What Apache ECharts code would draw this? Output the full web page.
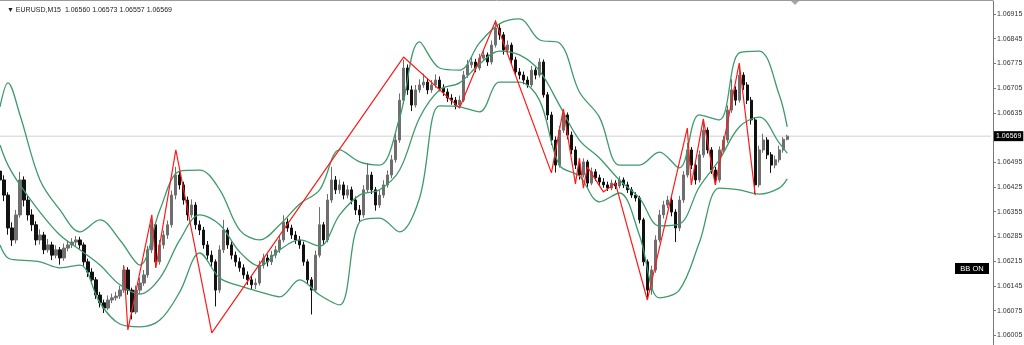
<!DOCTYPE html>
<html><head><meta charset="utf-8">
<script src="https://cdn.jsdelivr.net/npm/echarts@6/dist/echarts.min.js"></script>
<style>html,body{margin:0;padding:0;background:#fff}#c{width:1024px;height:345px}</style>
</head><body><div id="c"></div>
<script>
const symbolName = 'EURUSD,M15';
const slotCount = 249;
const opens = [
1.06470,1.06445,1.06402,1.06309,1.06275,1.06346,1.06445,1.06388,1.06346,1.06318,
1.06275,1.06289,1.06247,1.06261,1.06232,1.06247,1.06224,1.06252,1.06261,1.06269,
1.06275,1.06261,1.06213,1.06184,1.06162,1.06119,1.06097,1.06082,1.06105,1.06111,
1.06116,1.06133,1.06190,1.06133,1.06071,1.06133,1.06153,1.06176,1.06247,1.06318,
1.06213,1.06261,1.06289,1.06318,1.06402,1.06459,1.06431,1.06388,1.06346,1.06374,
1.06318,1.06303,1.06261,1.06232,1.06213,1.06133,1.06247,1.06303,1.06261,1.06232,
1.06213,1.06196,1.06176,1.06162,1.06148,1.06153,1.06204,1.06224,1.06213,1.06232,
1.06247,1.06275,1.06326,1.06309,1.06289,1.06275,1.06261,1.06213,1.06162,1.06133,
1.06232,1.06318,1.06275,1.06388,1.06445,1.06417,1.06431,1.06402,1.06417,1.06388,
1.06360,1.06346,1.06417,1.06459,1.06417,1.06374,1.06402,1.06431,1.06459,1.06502,
1.06558,1.06671,1.06762,1.06700,1.06657,1.06700,1.06714,1.06722,1.06700,1.06714,
1.06728,1.06705,1.06694,1.06677,1.06671,1.06657,1.06671,1.06742,1.06771,1.06779,
1.06762,1.06790,1.06799,1.06779,1.06827,1.06875,1.06856,1.06813,1.06827,1.06785,
1.06751,1.06742,1.06728,1.06714,1.06756,1.06742,1.06779,1.06686,1.06629,1.06558,
1.06487,1.06586,1.06629,1.06572,1.06530,1.06487,1.06459,1.06496,1.06436,1.06468,
1.06451,1.06439,1.06431,1.06422,1.06436,1.06428,1.06445,1.06431,1.06417,1.06402,
1.06394,1.06332,1.06213,1.06133,1.06190,1.06275,1.06346,1.06374,1.06388,1.06354,
1.06309,1.06388,1.06459,1.06530,1.06487,1.06445,1.06516,1.06586,1.06530,1.06473,
1.06445,1.06530,1.06558,1.06643,1.06700,1.06671,1.06742,1.06714,1.06671,1.06615,
1.06431,1.06530,1.06558,1.06516,1.06487,1.06502,1.06530,1.06560];
const closes = [
1.06445,1.06402,1.06309,1.06275,1.06346,1.06445,1.06388,1.06346,1.06318,1.06275,
1.06289,1.06247,1.06261,1.06232,1.06247,1.06224,1.06252,1.06261,1.06269,1.06275,
1.06261,1.06213,1.06184,1.06162,1.06119,1.06097,1.06082,1.06105,1.06111,1.06116,
1.06133,1.06190,1.06133,1.06071,1.06133,1.06153,1.06176,1.06247,1.06318,1.06213,
1.06261,1.06289,1.06318,1.06402,1.06459,1.06431,1.06388,1.06346,1.06374,1.06318,
1.06303,1.06261,1.06232,1.06213,1.06133,1.06247,1.06303,1.06261,1.06232,1.06213,
1.06196,1.06176,1.06162,1.06148,1.06153,1.06204,1.06224,1.06213,1.06232,1.06247,
1.06275,1.06326,1.06309,1.06289,1.06275,1.06261,1.06213,1.06162,1.06133,1.06232,
1.06318,1.06275,1.06388,1.06445,1.06417,1.06431,1.06402,1.06417,1.06388,1.06360,
1.06346,1.06417,1.06459,1.06417,1.06374,1.06402,1.06431,1.06459,1.06502,1.06558,
1.06671,1.06762,1.06700,1.06657,1.06700,1.06714,1.06722,1.06700,1.06714,1.06728,
1.06705,1.06694,1.06677,1.06671,1.06657,1.06671,1.06742,1.06771,1.06779,1.06762,
1.06790,1.06799,1.06779,1.06827,1.06875,1.06856,1.06813,1.06827,1.06785,1.06751,
1.06742,1.06728,1.06714,1.06756,1.06742,1.06779,1.06686,1.06629,1.06558,1.06487,
1.06586,1.06629,1.06572,1.06530,1.06487,1.06459,1.06496,1.06436,1.06468,1.06451,
1.06439,1.06431,1.06422,1.06436,1.06428,1.06445,1.06431,1.06417,1.06402,1.06394,
1.06332,1.06213,1.06133,1.06190,1.06275,1.06346,1.06374,1.06388,1.06354,1.06309,
1.06388,1.06459,1.06530,1.06487,1.06445,1.06516,1.06586,1.06530,1.06473,1.06445,
1.06530,1.06558,1.06643,1.06700,1.06671,1.06742,1.06714,1.06671,1.06615,1.06431,
1.06530,1.06558,1.06516,1.06487,1.06502,1.06530,1.06560,1.06569];
const highs = [
1.06520,1.06458,1.06410,1.06325,1.06360,1.06468,1.06455,1.06400,1.06362,1.06328,
1.06305,1.06298,1.06278,1.06270,1.06260,1.06255,1.06265,1.06274,1.06280,1.06286,
1.06284,1.06268,1.06222,1.06195,1.06170,1.06128,1.06106,1.06118,1.06123,1.06128,
1.06145,1.06204,1.06198,1.06140,1.06146,1.06168,1.06190,1.06258,1.06339,1.06324,
1.06275,1.06302,1.06330,1.06415,1.06482,1.06470,1.06440,1.06398,1.06390,1.06382,
1.06330,1.06312,1.06272,1.06245,1.06220,1.06260,1.06332,1.06310,1.06270,1.06242,
1.06225,1.06206,1.06186,1.06172,1.06166,1.06216,1.06236,1.06234,1.06244,1.06258,
1.06288,1.06345,1.06336,1.06318,1.06300,1.06286,1.06270,1.06220,1.06170,1.06245,
1.06368,1.06326,1.06405,1.06482,1.06456,1.06446,1.06440,1.06430,1.06426,1.06398,
1.06374,1.06430,1.06493,1.06468,1.06425,1.06416,1.06444,1.06472,1.06516,1.06578,
1.06690,1.06785,1.06772,1.06712,1.06714,1.06730,1.06746,1.06732,1.06728,1.06744,
1.06738,1.06716,1.06704,1.06688,1.06680,1.06684,1.06754,1.06785,1.06794,1.06788,
1.06802,1.06813,1.06806,1.06840,1.06898,1.06886,1.06864,1.06840,1.06834,1.06794,
1.06762,1.06752,1.06738,1.06768,1.06764,1.06790,1.06786,1.06694,1.06638,1.06568,
1.06598,1.06646,1.06636,1.06582,1.06540,1.06496,1.06506,1.06502,1.06480,1.06476,
1.06460,1.06450,1.06440,1.06446,1.06444,1.06455,1.06452,1.06440,1.06425,1.06410,
1.06400,1.06338,1.06220,1.06202,1.06288,1.06360,1.06386,1.06400,1.06396,1.06362,
1.06400,1.06470,1.06550,1.06538,1.06494,1.06528,1.06608,1.06594,1.06538,1.06482,
1.06540,1.06570,1.06656,1.06730,1.06710,1.06765,1.06750,1.06722,1.06680,1.06622,
1.06542,1.06576,1.06566,1.06524,1.06514,1.06542,1.06566,1.06573];
const lows = [
1.06430,1.06385,1.06290,1.06258,1.06265,1.06338,1.06370,1.06330,1.06300,1.06260,
1.06262,1.06235,1.06239,1.06218,1.06223,1.06205,1.06216,1.06243,1.06252,1.06258,
1.06250,1.06202,1.06170,1.06150,1.06108,1.06084,1.06068,1.06076,1.06096,1.06103,
1.06108,1.06125,1.06120,1.06050,1.06065,1.06124,1.06145,1.06168,1.06238,1.06198,
1.06205,1.06250,1.06278,1.06310,1.06390,1.06418,1.06375,1.06330,1.06338,1.06305,
1.06289,1.06250,1.06220,1.06200,1.06087,1.06125,1.06238,1.06250,1.06220,1.06200,
1.06185,1.06165,1.06148,1.06135,1.06136,1.06146,1.06194,1.06200,1.06204,1.06223,
1.06238,1.06268,1.06298,1.06278,1.06264,1.06250,1.06202,1.06150,1.06064,1.06126,
1.06225,1.06262,1.06268,1.06380,1.06405,1.06406,1.06390,1.06393,1.06376,1.06346,
1.06328,1.06338,1.06408,1.06405,1.06358,1.06366,1.06394,1.06423,1.06450,1.06494,
1.06550,1.06660,1.06686,1.06640,1.06650,1.06692,1.06706,1.06688,1.06692,1.06706,
1.06696,1.06683,1.06666,1.06658,1.06645,1.06648,1.06665,1.06734,1.06762,1.06750,
1.06755,1.06782,1.06768,1.06772,1.06820,1.06842,1.06800,1.06805,1.06772,1.06740,
1.06730,1.06716,1.06706,1.06708,1.06730,1.06735,1.06678,1.06615,1.06544,1.06466,
1.06480,1.06578,1.06560,1.06518,1.06476,1.06446,1.06452,1.06425,1.06430,1.06442,
1.06430,1.06423,1.06414,1.06416,1.06419,1.06421,1.06422,1.06408,1.06394,1.06384,
1.06322,1.06202,1.06105,1.06120,1.06182,1.06268,1.06336,1.06365,1.06342,1.06269,
1.06300,1.06380,1.06452,1.06476,1.06432,1.06438,1.06508,1.06520,1.06462,1.06431,
1.06438,1.06522,1.06550,1.06635,1.06656,1.06664,1.06700,1.06660,1.06602,1.06405,
1.06424,1.06522,1.06504,1.06465,1.06478,1.06494,1.06522,1.06557];

const bandIdx = [0,2,5,10,15,20,25,30,35,40,45,50,55,60,65,70,75,80,85,90,95,100,105,110,115,120,125,130,135,140,145,150,155,160,165,170,175,180,185,190,195,197];
const bbUpper = [1.06652,1.06720,1.06629,1.06445,1.06360,1.06298,1.06332,1.06275,1.06204,1.06360,1.06470,1.06473,1.06417,1.06303,1.06275,1.06318,1.06377,1.06417,1.06530,1.06496,1.06487,1.06621,1.06836,1.06762,1.06756,1.06833,1.06887,1.06901,1.06842,1.06833,1.06694,1.06623,1.06487,1.06487,1.06524,1.06479,1.06629,1.06615,1.06805,1.06810,1.06686,1.06595];
const bbMiddle = [1.06544,1.06487,1.06431,1.06354,1.06289,1.06247,1.06204,1.06148,1.06122,1.06167,1.06275,1.06346,1.06318,1.06241,1.06201,1.06247,1.06275,1.06258,1.06346,1.06402,1.06417,1.06473,1.06621,1.06700,1.06720,1.06773,1.06810,1.06799,1.06754,1.06657,1.06558,1.06507,1.06445,1.06394,1.06315,1.06320,1.06425,1.06502,1.06595,1.06623,1.06550,1.06521];
const bbLower = [1.06261,1.06224,1.06218,1.06213,1.06196,1.06204,1.06097,1.06037,1.06029,1.06048,1.06128,1.06238,1.06167,1.06145,1.06128,1.06114,1.06162,1.06119,1.06091,1.06326,1.06337,1.06298,1.06394,1.06655,1.06652,1.06638,1.06722,1.06722,1.06671,1.06487,1.06456,1.06383,1.06408,1.06289,1.06111,1.06133,1.06267,1.06422,1.06417,1.06405,1.06422,1.06448];

const zigzagIdx = [31,32,38,39,44,53,101,115,124,138,141,144,145,146,147,151,154,162,172,173,176,179,185,189];
const zigzagPrice = [1.06201,1.06020,1.06346,1.06196,1.06530,1.06012,1.06793,1.06649,1.06895,1.06465,1.06646,1.06434,1.06507,1.06422,1.06482,1.06411,1.06436,1.06105,1.06592,1.06431,1.06618,1.06431,1.06776,1.06402];

const tickValues = [1.06005,1.06075,1.06145,1.06215,1.06285,1.06355,1.06425,1.06495,1.06635,1.06705,1.06775,1.06845,1.06915];
const yMin = 1.059775, yMax = 1.069518;

const categories = Array.from({length: slotCount}, (_, i) => String(i + 1));
const last = opens.length - 1;
const currentPrice = closes[last];
const headerText = '\u25BC ' + symbolName + '  ' + [opens[last], highs[last], lows[last], closes[last]].map(v => v.toFixed(5)).join(' ');

const candleData = opens.map((o, i) => [o, closes[i], lows[i], highs[i]]);
const pairs = (xs, ys) => xs.map((x, k) => [x, ys[k]]);
const green = '#3f9a6b';
const font = 'Liberation Sans Narrow, Liberation Sans, Arial, sans-serif';

const chart = echarts.init(document.getElementById('c'), null, {renderer: 'canvas'});
chart.setOption({
  animation: false,
  backgroundColor: '#ffffff',
  title: {
    text: headerText, left: 2, top: 2,
    textStyle: {fontSize: 7, fontWeight: 'normal', color: '#222', fontFamily: font}
  },
  grid: {left: -2, right: 31, top: 1, bottom: 0, containLabel: false, outerBoundsMode: 'none'},
  xAxis: {
    type: 'category', data: categories, boundaryGap: true, show: false
  },
  yAxis: {
    type: 'value', position: 'right', min: yMin, max: yMax, scale: true,
    splitLine: {show: false},
    axisLine: {show: true, lineStyle: {color: '#777', width: 1}},
    axisTick: {show: true, length: 3, inside: false, customValues: tickValues, lineStyle: {color: '#777'}},
    axisLabel: {
      show: true, margin: 4, customValues: tickValues, fontSize: 7, color: '#333', fontFamily: font,
      formatter: v => Number(v).toFixed(5)
    }
  },
  series: [
    {
      type: 'line', data: pairs([0, slotCount - 1], [currentPrice, currentPrice]), showSymbol: false,
      lineStyle: {color: '#d0d0d0', width: 1}, silent: true, z: 1,
      endLabel: {
        show: true, distance: 3, formatter: () => currentPrice.toFixed(5),
        backgroundColor: '#000', color: '#fff', padding: [2, 2, 1, 2], fontSize: 7, fontFamily: font
      }
    },
    {
      type: 'candlestick', data: candleData, barWidth: 2.8,
      itemStyle: {color: '#6e6e6e', color0: '#111111', borderColor: '#6e6e6e', borderColor0: '#111111', borderWidth: 1},
      z: 2
    },
    {type: 'line', data: pairs(bandIdx, bbUpper), showSymbol: false, smooth: 0.35, lineStyle: {color: green, width: 1.3}, z: 3},
    {type: 'line', data: pairs(bandIdx, bbMiddle), showSymbol: false, smooth: 0.35, lineStyle: {color: green, width: 1.3}, z: 3},
    {type: 'line', data: pairs(bandIdx, bbLower), showSymbol: false, smooth: 0.35, lineStyle: {color: green, width: 1.3}, z: 3},
    {type: 'line', data: pairs(zigzagIdx, zigzagPrice), showSymbol: false, smooth: false, lineStyle: {color: '#ff1a1a', width: 1.2}, z: 4}
  ],
  graphic: [
    {type: 'line', shape: {x1: 0, y1: 0.5, x2: 993, y2: 0.5}, style: {stroke: '#9a9a9a', lineWidth: 1}, silent: true},
    {type: 'polygon', shape: {points: [[791, 1], [799, 1], [795, 5]]}, style: {fill: '#a8a8a8'}, silent: true},
    {type: 'group', left: 955, top: 263, silent: true, children: [
      {type: 'rect', shape: {x: 0, y: 0, width: 34, height: 11}, style: {fill: '#000'}},
      {type: 'text', x: 17, y: 5.5, style: {text: 'BB ON', fill: '#fff', fontSize: 7.5, fontFamily: 'Liberation Sans, Arial, sans-serif', align: 'center', verticalAlign: 'middle'}}
    ]}
  ]
});
</script>
</body></html>
